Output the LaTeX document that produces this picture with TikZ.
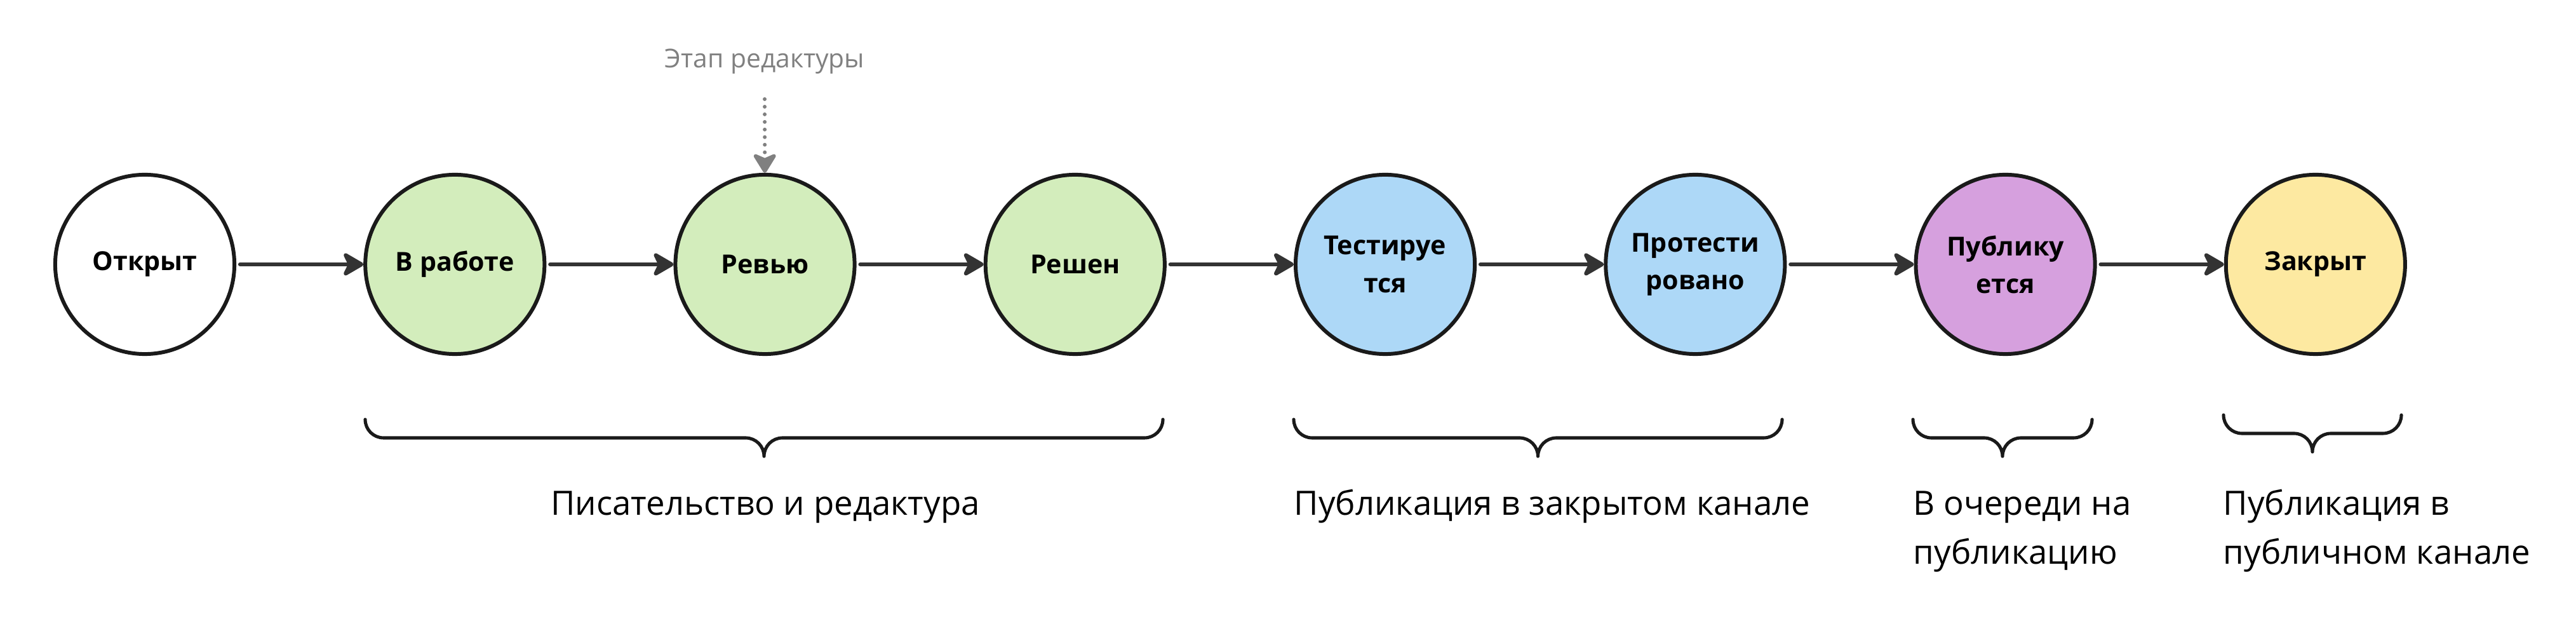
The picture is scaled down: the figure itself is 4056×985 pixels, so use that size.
\documentclass[tikz,border=0pt]{standalone}
\usepackage{fontspec}
\setmainfont{Open Sans}
\usepackage{tikz}
\usetikzlibrary{arrows.meta,positioning}

\definecolor{edge}{HTML}{333333}
\definecolor{ring}{HTML}{1A1A1A}
\definecolor{hint}{HTML}{808080}
\definecolor{greenfill}{HTML}{D3EDBC}
\definecolor{bluefill}{HTML}{ADD8F7}
\definecolor{violetfill}{HTML}{D6A0DE}
\definecolor{yellowfill}{HTML}{FDE9A1}

% brace under a group of stages: left x, right x, top y
\newcommand{\stagebrace}[3]{%
  \draw[bracestyle] (#1,#3) arc[start angle=180,end angle=270,radius=29]
    -- ({(#1+#2)/2-29},#3-29) arc[start angle=90,end angle=0,radius=29]
    arc[start angle=180,end angle=90,radius=29]
    -- (#2-29,#3-29) arc[start angle=270,end angle=360,radius=29];}

\begin{document}
\begin{tikzpicture}[line cap=round,line join=round,x=0.01cm,y=0.01cm,node distance=2cm,
  state/.style={circle,draw=ring,line width=1.7pt,minimum size=2.82cm,inner sep=0pt,
    align=center,font=\fontsize{11.7}{16.8}\selectfont\bfseries},
  flow/.style={draw=edge,line width=1.8pt,shorten <=1.7pt,
    -{Stealth[length=10.8pt,width=12.4pt,inset=3pt,round]}},
  hintline/.style={draw=hint,line width=1.7pt,dash pattern=on 0pt off 3.4pt,
    -{Stealth[length=10pt,width=12.2pt,inset=2.6pt,round]}},
  stagelabel/.style={font=\fontsize{15}{21.9}\selectfont,inner sep=0pt,align=left},
  bracestyle/.style={draw=ring,line width=1.45pt}]
		\useasboundingbox (0,0) rectangle (4056,985);
		
		\node[state] (open) at (228,569) {Открыт};
		\node[state,fill=greenfill,right=of open] (work) {В работе};
		\node[state,fill=greenfill,right=of work] (review) {Ревью};
		\node[state,fill=greenfill,right=of review] (solved) {Решен};
		\node[state,fill=bluefill,right=of solved] (testing) {Тестируе\\тся};
		\node[state,fill=bluefill,right=of testing] (tested) {Протести\\ровано};
		\node[state,fill=violetfill,right=of tested] (publishing) {Публику\\ется};
		\node[state,fill=yellowfill,right=of publishing] (closed) {Закрыт};
		
		\draw[flow] (open) -- (work);
		\draw[flow] (work) -- (review);
		\draw[flow] (review) -- (solved);
		\draw[flow] (solved) -- (testing);
		\draw[flow] (testing) -- (tested);
		\draw[flow] (tested) -- (publishing);
		\draw[flow] (publishing) -- (closed);
		
		\node[anchor=base,text=hint,inner sep=0pt,font=\fontsize{11.6}{14}\selectfont] (editnote) at (1204,878) {Этап редактуры};
		\coordinate (editstart) at (1204,829);
		\draw[hintline] (editstart) -- (review);
		
		\stagebrace{575}{1831}{325}
		\stagebrace{2037}{2806}{325}
		\stagebrace{3012}{3294}{325}
		\stagebrace{3501}{3781}{332}
		
		\node[stagelabel,anchor=base] (writing) at (1205,174) {Писательство и редактура};
		\node[stagelabel,anchor=base west] (closedchannel) at (2037,174) {Публикация в закрытом канале};
		\node[stagelabel,anchor=base west] (queue) at (3012,97) {В очереди на\\публикацию};
		\node[stagelabel,anchor=base west] (publicchannel) at (3500,97) {Публикация в\\публичном канале};
	\end{tikzpicture}
\end{document}
